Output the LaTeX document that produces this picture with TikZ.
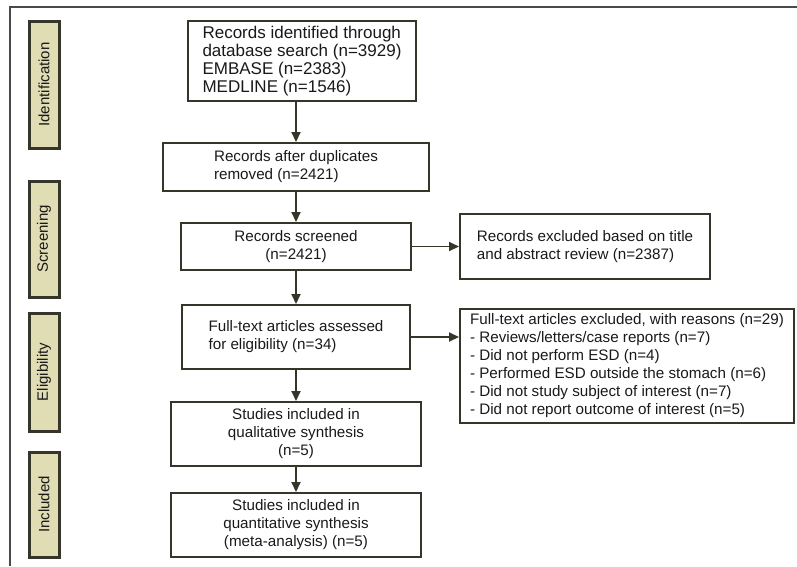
\documentclass[tikz,border=0pt]{standalone}
\usepackage{fontspec}
\setmainfont{Liberation Sans}
\usetikzlibrary{arrows.meta}
\definecolor{edge}{HTML}{35352A}
\definecolor{phase}{HTML}{E0DCB4}
\definecolor{rule}{HTML}{4A4A4A}

\begin{document}
\begin{tikzpicture}[x=1pt,y=-1pt]
            \tikzstyle{every node}+=[inner sep=0pt,text=black!90]
            \tikzstyle{box}=[draw=edge,line width=2pt,align=left,font=\fontsize{15.2}{18}\selectfont]
            \tikzstyle{stage}=[draw=edge,line width=3pt,fill=phase,rotate=90,minimum height=30pt,font=\fontsize{15}{18}\selectfont]
            \tikzstyle{arr}=[draw=edge,line width=1.9pt,-{Triangle[width=9pt,length=10pt]}]
            \useasboundingbox (0,0) rectangle (797,566);
            \draw [rule,line width=1.5pt] (10,566) -- (10,7) -- (797,7);
            \node [stage,minimum width=127pt] (idstage) at (44,84.5) {Identification};
            \node [stage,minimum width=116pt] (scstage) at (44,239) {Screening};
            \node [stage,minimum width=118pt] (elstage) at (44,372) {Eligibility};
            \node [stage,minimum width=105pt] (instage) at (44,504.5) {Included};
            \node [box,minimum width=228pt,minimum height=80pt,font=\fontsize{17}{18}\selectfont] (ident) at (302,61)
                {Records identified through\\database search (n=3929)\\EMBASE (n=2383)\\MEDLINE (n=1546)};
            \node [box,minimum width=266pt,minimum height=48pt] (dup) at (296,167)
                {Records after duplicates\\removed (n=2421)};
            \node [box,align=center,minimum width=230pt,minimum height=47pt] (screen) at (296,246.5)
                {Records screened\\(n=2421)};
            \node [box,minimum width=250pt,minimum height=65pt] (excl1) at (585,246.5)
                {Records excluded based on title\\and abstract review (n=2387)};
            \node [box,minimum width=228pt,minimum height=64pt] (full) at (296,337)
                {Full-text articles assessed\\for eligibility (n=34)};
            \node [box,minimum width=334pt,minimum height=114pt] (excl2) at (627,366)
                {Full-text articles excluded, with reasons (n=29)\\- Reviews/letters/case reports (n=7)\\- Did not perform ESD (n=4)\\- Performed ESD outside the stomach (n=6)\\- Did not study subject of interest (n=7)\\- Did not report outcome of interest (n=5)};
            \node [box,align=center,minimum width=250pt,minimum height=64pt] (qual) at (296,434)
                {Studies included in\\qualitative synthesis\\(n=5)};
            \node [box,align=center,minimum width=250pt,minimum height=64pt] (quant) at (296,525)
                {Studies included in\\quantitative synthesis\\(meta-analysis) (n=5)};
            \draw [arr] (ident.south -| dup.north) -- (dup.north);
            \draw [arr] (dup.south) -- (screen.north);
            \draw [arr] (screen.east) -- (excl1.west);
            \draw [arr] (screen.south) -- (full.north);
            \draw [arr] (full.east) -- (full.east -| excl2.west);
            \draw [arr] (full.south) -- (qual.north);
            \draw [arr] (qual.south) -- (quant.north);
\end{tikzpicture}
\end{document}
